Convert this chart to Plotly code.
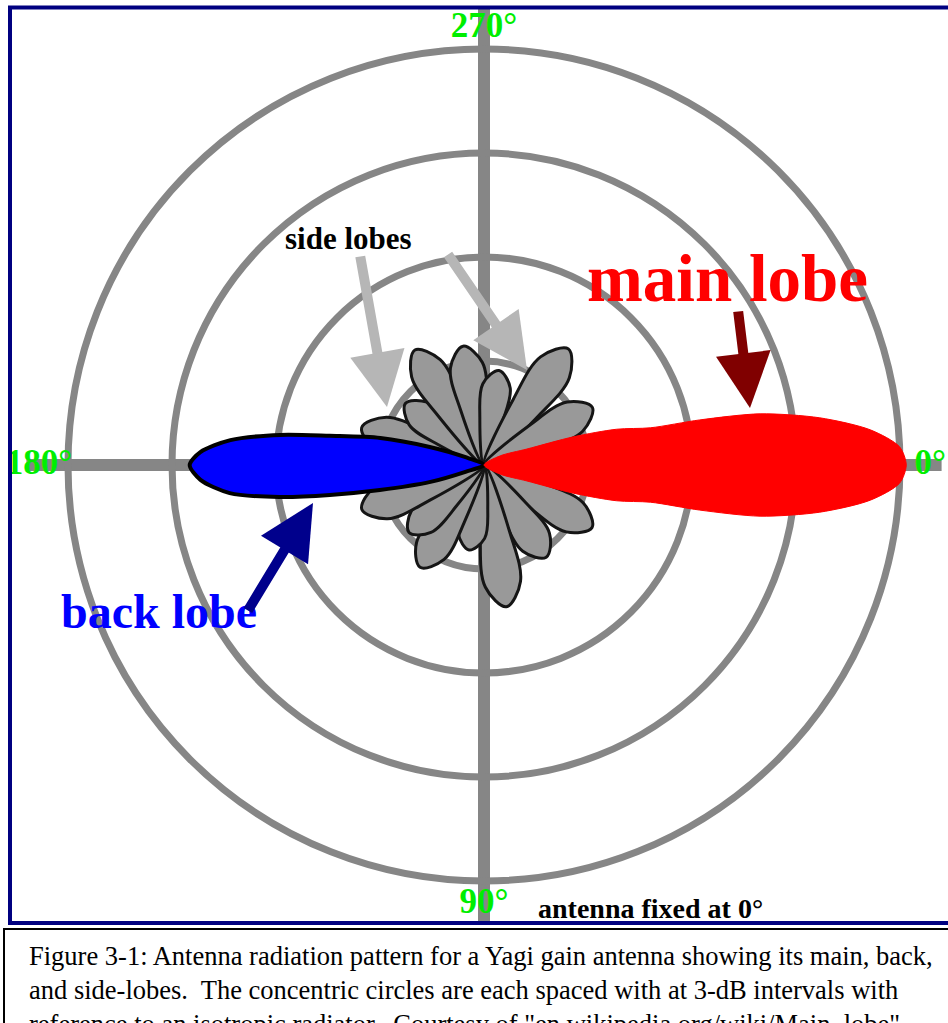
"""Yagi antenna radiation pattern (main, back and side lobes) in Plotly."""

import plotly.graph_objects as go

W, H = 948, 1023
PX_PER_UNIT = 104.0
CENTER = (484, 465)

_GRID = "#868686"
_SIDE_FILL = "#999999"
_BACK_FILL = "#0000ff"
_MAIN_FILL = "#ff0000"
_LABEL_GREEN = "#00ee00"

# rings every 3 dB, in ring units
ring_r = [1, 2, 3, 4]
spoke_theta = [0, 90, 180, 270]

# main lobe outline (deg clockwise from 0°, ring units)
main_theta = [0, 330.6, 339.6, 342.5, 344.9, 347.4, 348.2, 349.5, 352.0, 354.8, 357.5, 0,
              2.5, 5.2, 8.0, 10.5, 11.8, 12.6, 15.1, 17.5, 20.4, 29.4, 0]
main_r = [0, 0.18, 0.44, 0.90, 1.32, 1.64, 2.12, 2.70, 3.26, 3.73, 4.00, 4.06,
          4.00, 3.73, 3.26, 2.70, 2.12, 1.64, 1.32, 0.90, 0.44, 0.18, 0]

# back lobe outline
back_theta = [0, 202.8, 198.4, 194.6, 190.7, 188.4, 185.6, 182.6, 180,
              177.0, 173.7, 171.1, 169.0, 166.5, 162.5, 159.8, 0]
back_r = [0, 0.20, 0.55, 1.03, 1.51, 1.98, 2.45, 2.73, 2.83,
          2.73, 2.46, 1.99, 1.51, 1.03, 0.54, 0.19, 0]

# side lobes: direction, length and half-width (deg) of each petal
petal_theta = [30, 56, 81, 100, 122, 138, 160, 197, 218, 239, 260, 279, 306, 332]
petal_r = [1.20, 1.07, 1.38, 0.83, 1.16, 0.97, 1.25, 1.23, 0.96, 1.29, 1.16, 0.92, 1.38, 1.18]
petal_hw = [13, 14, 12, 15, 13, 14, 13, 13, 14, 12, 13, 14, 12, 13]

angle_labels = ["0°", "90°", "180°", "270°"]
angle_label_theta = [0, 90, 180, 270]
angle_label_r = [4.29, 4.22, 4.28, 4.2]

caption_lines = [
    "Figure 3-1: Antenna radiation pattern for a Yagi gain antenna showing its main, back,",
    "and side-lobes.  The concentric circles are each spaced with at 3-dB intervals with",
    "reference to an isotropic radiator.  Courtesy of \"en.wikipedia.org/wiki/Main_lobe\".",
]


def _px(x, y):
    return x / W, 1 - y / H


def _arrow(fig, tip, tail, color, width):
    x, y = _px(*tip)
    fig.add_annotation(
        x=x, y=y, xref="paper", yref="paper", text="",
        ax=tail[0] - tip[0], ay=tail[1] - tip[1],
        showarrow=True, arrowhead=2, arrowsize=1.1, arrowwidth=width,
        arrowcolor=color, standoff=0, startstandoff=0,
    )


def _label(fig, text, pos, color, size, family="Liberation Serif"):
    x, y = _px(*pos)
    fig.add_annotation(
        x=x, y=y, xref="paper", yref="paper", text=text, showarrow=False,
        font=dict(family=family, size=size, color=color, weight="bold"),
        xanchor="center", yanchor="middle",
    )


fig = go.Figure()

# each side lobe as a rounded petal from the centre
for th, r, hw in zip(petal_theta, petal_r, petal_hw):
    fig.add_trace(go.Scatterpolar(
        theta=[th, th - hw, th - 0.7 * hw, th, th + 0.7 * hw, th + hw, th],
        r=[0, 0.5 * r, 0.85 * r, r, 0.85 * r, 0.5 * r, 0],
        mode="lines", fill="toself", fillcolor=_SIDE_FILL,
        line=dict(color="#151515", width=3, shape="spline", smoothing=1.0),
        hoverinfo="skip",
    ))

fig.add_trace(go.Scatterpolar(
    theta=back_theta, r=back_r, mode="lines", fill="toself",
    fillcolor=_BACK_FILL, line=dict(color="#000000", width=4, shape="spline", smoothing=0.8),
    hoverinfo="skip",
))
fig.add_trace(go.Scatterpolar(
    theta=main_theta, r=main_r, mode="lines", fill="toself",
    fillcolor=_MAIN_FILL, line=dict(color=_MAIN_FILL, width=1, shape="spline", smoothing=0.8),
    hoverinfo="skip",
))
fig.add_trace(go.Scatterpolar(
    theta=angle_label_theta, r=angle_label_r, mode="text", text=angle_labels,
    textfont=dict(family="Liberation Serif", size=35, color=_LABEL_GREEN, weight="bold"),
    hoverinfo="skip",
))

r_max = 4.4
half = r_max * PX_PER_UNIT
x0, y1 = _px(CENTER[0] - half, CENTER[1] - half)
x1, y0 = _px(CENTER[0] + half, CENTER[1] + half)

fig.update_layout(
    width=W, height=H,
    margin=dict(l=0, r=0, t=0, b=0),
    paper_bgcolor="white",
    showlegend=False,
    polar=dict(
        domain=dict(x=[x0, x1], y=[y0, y1]),
        bgcolor="rgba(0,0,0,0)",
        radialaxis=dict(
            range=[0, r_max], tickvals=ring_r, showticklabels=False, ticks="",
            showline=False, gridcolor=_GRID, gridwidth=7,
        ),
        angularaxis=dict(
            tickvals=spoke_theta, showticklabels=False, ticks="", showline=False,
            direction="clockwise", rotation=0, gridcolor=_GRID, gridwidth=12,
        ),
    ),
)

# labels and pointers
_label(fig, "side lobes", (348, 238), "#000000", 31)
_label(fig, "main lobe", (727, 278), "#ff0000", 67)
_label(fig, "back lobe", (159, 611), "#0000ff", 48)
_label(fig, "antenna fixed at 0°", (650, 908), "#000000", 28)

_arrow(fig, (387, 407), (360, 255), "#b6b6b6", 10)
_arrow(fig, (527, 370), (447, 253), "#b6b6b6", 10)
_arrow(fig, (750, 408), (738, 310), "#800000", 10)
_arrow(fig, (313, 503), (247, 612), "#00008c", 10)

# frame around the plot and caption box
fx0, fy0 = _px(10, 7.5)
fx1, fy1 = _px(952, 923)
fig.add_shape(type="rect", xref="paper", yref="paper", x0=fx0, y0=fy1, x1=fx1, y1=fy0,
              line=dict(color="#000080", width=4))
cx0, cy0 = _px(4, 929)
cx1, cy1 = _px(960, 1040)
fig.add_shape(type="rect", xref="paper", yref="paper", x0=cx0, y0=cy1, x1=cx1, y1=cy0,
              line=dict(color="#000000", width=2))

for i, line in enumerate(caption_lines):
    x, y = _px(27, 956 + 34 * i)
    fig.add_annotation(
        x=x, y=y, xref="paper", yref="paper", text=line, showarrow=False,
        xanchor="left", yanchor="middle",
        font=dict(family="Liberation Serif", size=26.5, color="#000000"),
    )

fig.write_html(
    "out.html",
    config={"displayModeBar": False},
    post_script="document.body.style.margin='0';document.body.style.overflow='hidden';",
)
